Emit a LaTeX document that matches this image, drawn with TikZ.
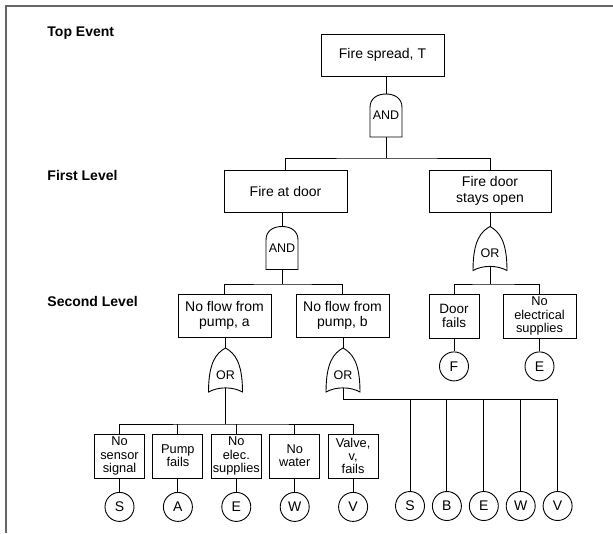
\documentclass[tikz,border=0pt]{standalone}
\usepackage{fontspec}
\setmainfont{Liberation Sans}
\usetikzlibrary{positioning}

% gate outlines, drawn round a named gate node
\newcommand{\andgate}[1]{\draw[shift={(#1.center)}] (-16,21.5) -- (-16,-8) .. controls (-16,-17) and (-9,-21.5) .. (0,-21.5) .. controls (9,-21.5) and (16,-17) .. (16,-8) -- (16,21.5) -- cycle;}
\newcommand{\orgate}[1]{\draw[shift={(#1.center)}] (0,-22) .. controls (9,-17) and (17,-8) .. (17,22) .. controls (7,16.5) and (-7,16.5) .. (-17,22) .. controls (-17,-8) and (-9,-17) .. (0,-22) -- cycle;}

\begin{document}
\begin{tikzpicture}[x=1pt,y=-1pt,line width=0.9pt]
        \tikzset{event/.style={draw, rectangle, align=center, inner sep=1pt, font=\fontsize{14}{15.5}\selectfont},
        basic/.style={draw, rectangle, align=center, inner sep=1pt, minimum width=50pt, minimum height=44pt, font=\fontsize{12.8}{13.3}\selectfont},
        leaf/.style={draw, circle, minimum size=29pt, inner sep=0pt, font=\fontsize{14}{14}\selectfont},
        gate/.style={minimum width=32pt, minimum height=43pt, inner sep=0pt, font=\fontsize{12.5}{12.5}\selectfont},
        orlbl/.style={label={[font=\fontsize{12.5}{12.5}\selectfont, yshift=-5pt]center:OR}},
        level/.style={anchor=west, inner sep=0pt, font=\fontsize{14}{14}\selectfont\bfseries},
        }
        \useasboundingbox (0,0) rectangle (613,533);
        \draw[line width=2pt, black!60] (6,533) -- (6,6) -- (613,6);

        \node [level] (lvtop) at (47,33) {Top Event};
        \node [level] (lvfirst) at (47,175) {First Level};
        \node [level] (lvsecond) at (47,301) {Second Level};

        \node [event, minimum width=123pt, minimum height=42pt] (top) at (382.5,55) {Fire spread, T};
        \node [gate] (and1) at (386,115.5) {AND};
        \node [event, minimum width=123pt, minimum height=42pt] (fad) at (285.5,191) {Fire at door};
        \node [event, minimum width=122pt, minimum height=42pt] (fdo) at (490,191) {Fire door\\stays open};
        \node [gate] (and2) at (282,248) {AND};
        \node [gate, orlbl] (or1) at (490,248.5) {};
        \node [event, minimum width=93pt, minimum height=43pt] (pa) at (224.5,315.5) {No flow from\\pump, a};
        \node [event, minimum width=93pt, minimum height=43pt] (pb) at (342.5,315.5) {No flow from\\pump, b};
        \node [basic, font=\fontsize{13.5}{13.5}\selectfont] (door) at (454,316) {Door\\fails};
        \node [basic, minimum width=73pt] (noel) at (539.5,316) {No\\electrical\\supplies};
        \node [leaf, below=13pt of door] (cF) {F};
        \node [leaf, below=13pt of noel] (cE2) {E};
        \node [gate, orlbl] (or2) at (225.5,370) {};
        \node [gate, orlbl] (or3) at (343,370) {};

        \node [basic] (sensor) at (119.5,456) {No\\sensor\\signal};
        \node [basic, right=7.5pt of sensor] (pump) {Pump\\fails};
        \node [basic, right=7.5pt of pump] (elec) {No\\elec.\\supplies};
        \node [basic, right=7.5pt of elec] (water) {No\\water};
        \node [basic, right=7.5pt of water] (valve) {Valve,\\v,\\fails};
        \foreach \b/\l in {sensor/S, pump/A, elec/E, water/W, valve/V}
            \node [leaf, below=13.5pt of \b] (c\l) {\l};

        \node [leaf] (dS) at (410,506) {S};
        \node [leaf, right=7pt of dS] (dB) {B};
        \node [leaf, right=7pt of dB] (dE) {E};
        \node [leaf, right=7pt of dE] (dW) {W};
        \node [leaf, right=7pt of dW] (dV) {V};

%% gates
        \andgate{and1}
        \andgate{and2}
        \orgate{or1}
        \orgate{or2}
        \orgate{or3}

%% joints
        \coordinate (j1) at (386,158);
        \coordinate (j2) at (282,284);
        \coordinate (j3) at (490,284);
        \coordinate (j4) at (225.5,424);
        \coordinate (j5) at (343,399);

%% paths
        \draw (top.south -| and1) -- (and1) -- (j1);
        \draw (fad) |- (j1) -| (fdo);
        \draw (fad.south -| and2) -- (and2) -- (j2);
        \draw (pa) |- (j2) -| (pb);
        \draw (fdo) -- (or1);
        \draw ([yshift=4pt]or1.south) -- (j3);
        \draw (door) |- (j3) -| (noel);
        \draw (door) -- (cF);
        \draw (noel) -- (cE2);
        \draw (pa.south -| or2) -- (or2);
        \draw (pb.south -| or3) -- (or3);
        \draw ([yshift=4pt]or2.south) -- (j4);
        \draw (sensor) |- (j4) -| (valve);
        \foreach \b in {pump, elec, water}
            \draw (\b) -- (\b |- j4);
        \foreach \b/\l in {sensor/S, pump/A, elec/E, water/W, valve/V}
            \draw (\b) -- (c\l);
        \draw ([yshift=4pt]or3.south) -- (j5) -| (dV);
        \foreach \l in {S, B, E, W}
            \draw (d\l) -- (d\l |- j5);
    \end{tikzpicture}
\end{document}
